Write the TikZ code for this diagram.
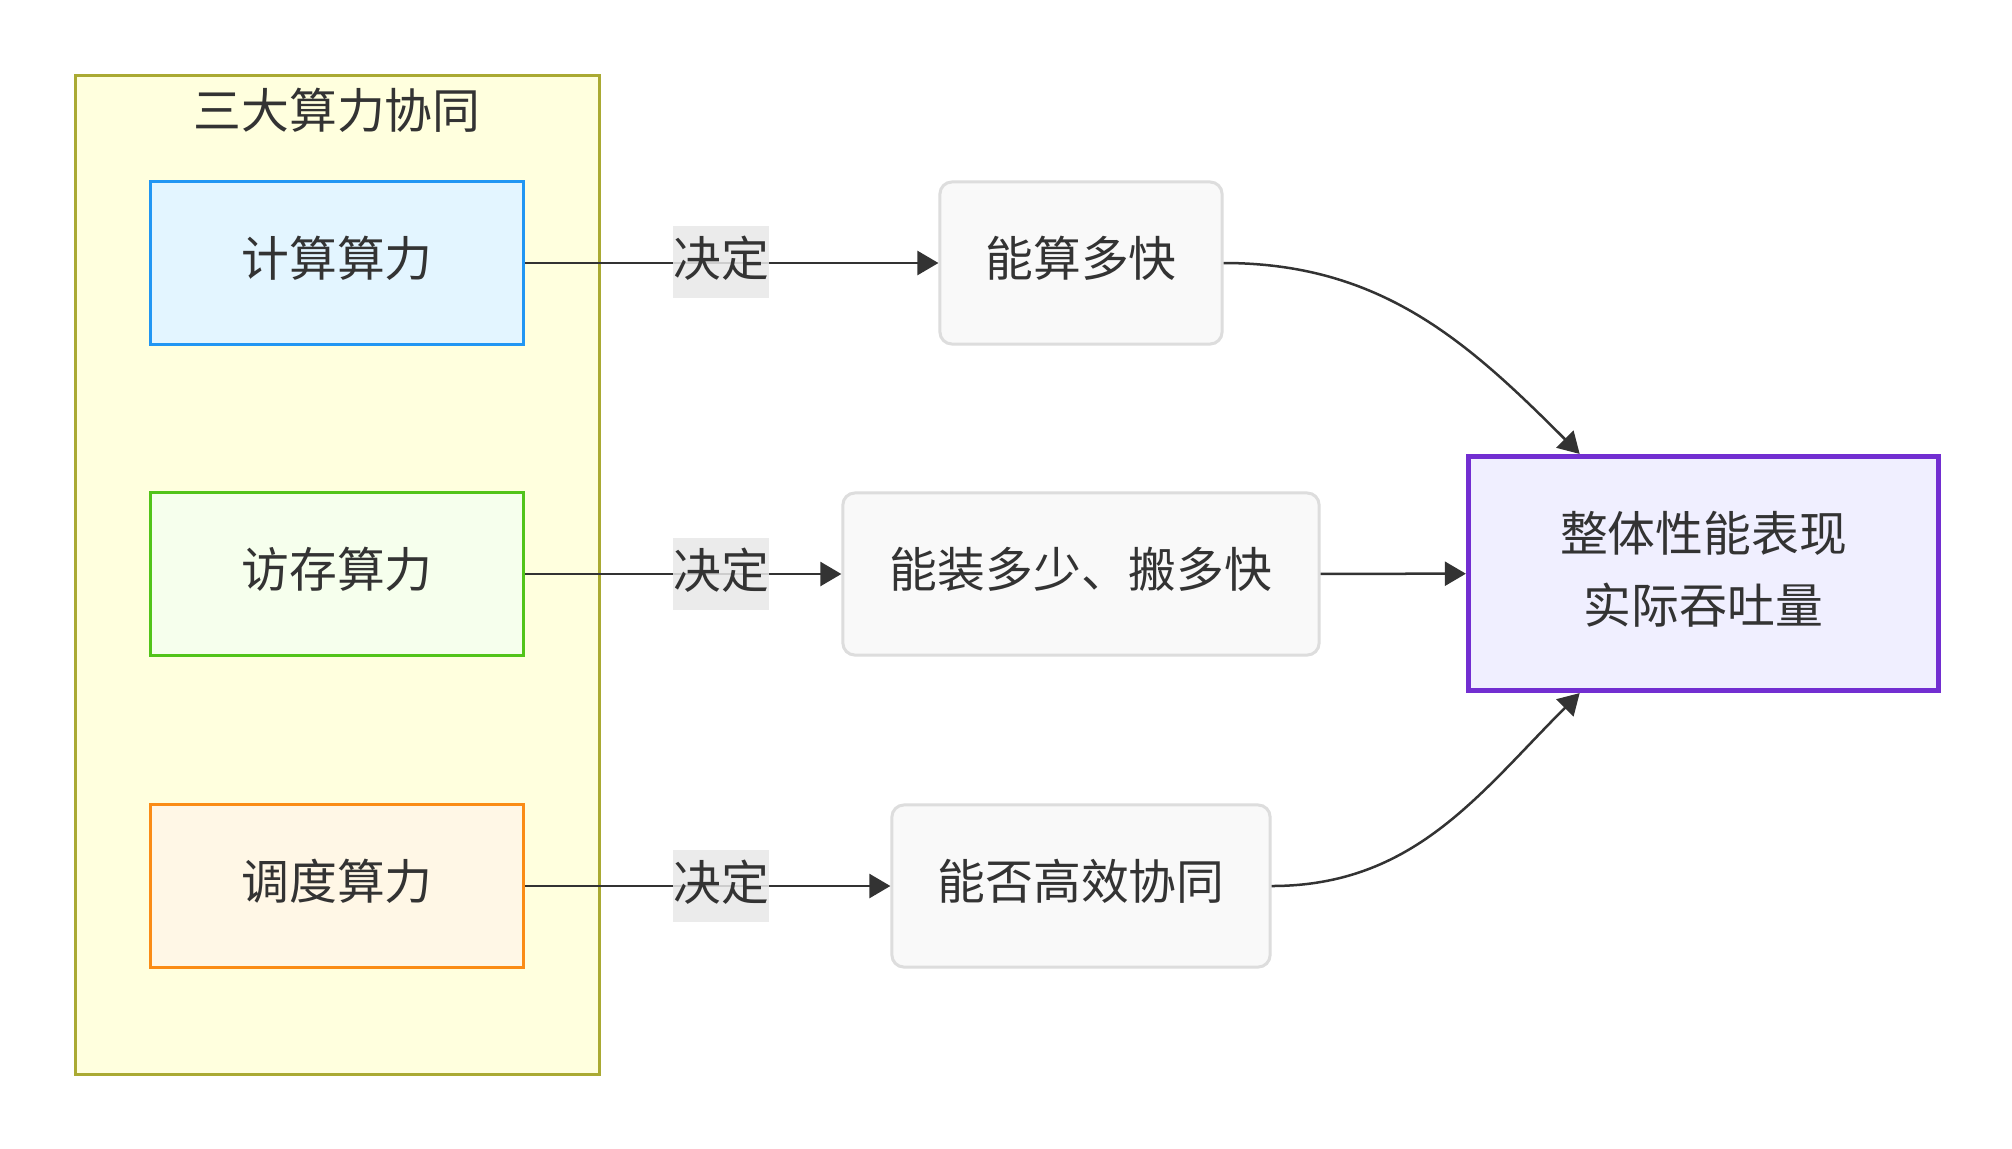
\documentclass[tikz,border=0pt]{standalone}
\usepackage{fontspec}
\setmainfont{Noto Sans CJK SC}
\usetikzlibrary{arrows.meta}
\definecolor{ink}{HTML}{333333}
\definecolor{grpfill}{HTML}{FFFFDE}
\definecolor{grpline}{HTML}{AAAA33}
\definecolor{cpufill}{HTML}{E3F5FF}
\definecolor{cpuline}{HTML}{2196F3}
\definecolor{memfill}{HTML}{F6FFED}
\definecolor{memline}{HTML}{52C41A}
\definecolor{schedfill}{HTML}{FFF7E6}
\definecolor{schedline}{HTML}{FA8C16}
\definecolor{resfill}{HTML}{F9F9F9}
\definecolor{resline}{HTML}{DDDDDD}
\definecolor{perffill}{HTML}{F0EFFF}
\definecolor{perfline}{HTML}{722ED1}
\definecolor{lblfill}{HTML}{E8E8E8}
\newcommand{\diafont}{\fontsize{13.6pt}{20.5pt}\selectfont}
\newcommand{\up}[1]{\raisebox{1.2pt}[\height][\depth]{#1}}
\tikzset{
  srcbox/.style={draw, line width=0.03cm, minimum width=3.73cm, minimum height=1.62cm, text=ink, font=\diafont},
  resbox/.style={draw=resline, fill=resfill, rounded corners=0.12cm, line width=0.03cm, minimum height=1.62cm, text=ink, font=\diafont},
  lbl/.style={fill=lblfill, fill opacity=0.85, text opacity=1, inner xsep=0pt, inner ysep=0pt, minimum height=0.72cm, text=ink, font=\diafont},
  arr/.style={draw=ink, line width=0.025cm, -{Triangle[length=0.21cm,width=0.24cm]}},
}

\begin{document}
\begin{tikzpicture}[x=0.01cm, y=-0.01cm]

    \fill[white] (0,0) rectangle (2012,1148);
    \useasboundingbox (0,0) rectangle (2012,1148);
    % group
    \node [draw=grpline, fill=grpfill, line width=0.03cm, minimum width=5.23cm, minimum height=9.98cm] (grp) at (337.5,575) {};
    \node [text=ink, font=\diafont] (grptitle) at (337,110) {三大算力协同};
    \node [srcbox, draw=cpuline, fill=cpufill] (cpu) at (337,263) {\up{计算算力}};
    \node [srcbox, draw=memline, fill=memfill] (mem) at (337,574) {\up{访存算力}};
    \node [srcbox, draw=schedline, fill=schedfill] (sched) at (337,886) {\up{调度算力}};
    % results
    \node [resbox, minimum width=2.82cm] (fast) at (1081,263) {\up{能算多快}};
    \node [resbox, minimum width=4.76cm] (load) at (1081,574) {\up{能装多少、搬多快}};
    \node [resbox, minimum width=3.78cm] (coop) at (1081,886) {\up{能否高效协同}};
    \node [draw=perfline, fill=perffill, line width=0.05cm, minimum width=4.70cm, minimum height=2.34cm, text=ink, font=\diafont, align=center] (perf) at (1703.5,573.5) {\up{整体性能表现}\\\up{实际吞吐量}};
	% edges
    \draw [arr] (cpu) -- (fast);
    \draw [arr] (mem) -- (load);
    \draw [arr] (sched) -- (coop);
    \draw [arr] (fast.east) to [out=0, in=135] (perf.136);
    \draw [arr] (load) -- (perf);
    \draw [arr] (coop.east) to [out=0, in=225] (perf.224);
    % labels
    \node [lbl] (l1) at (721,262) {\up{决定}};
    \node [lbl] (l2) at (721,574) {\up{决定}};
    \node [lbl] (l3) at (721,886) {\up{决定}};
\end{tikzpicture}
\end{document}
